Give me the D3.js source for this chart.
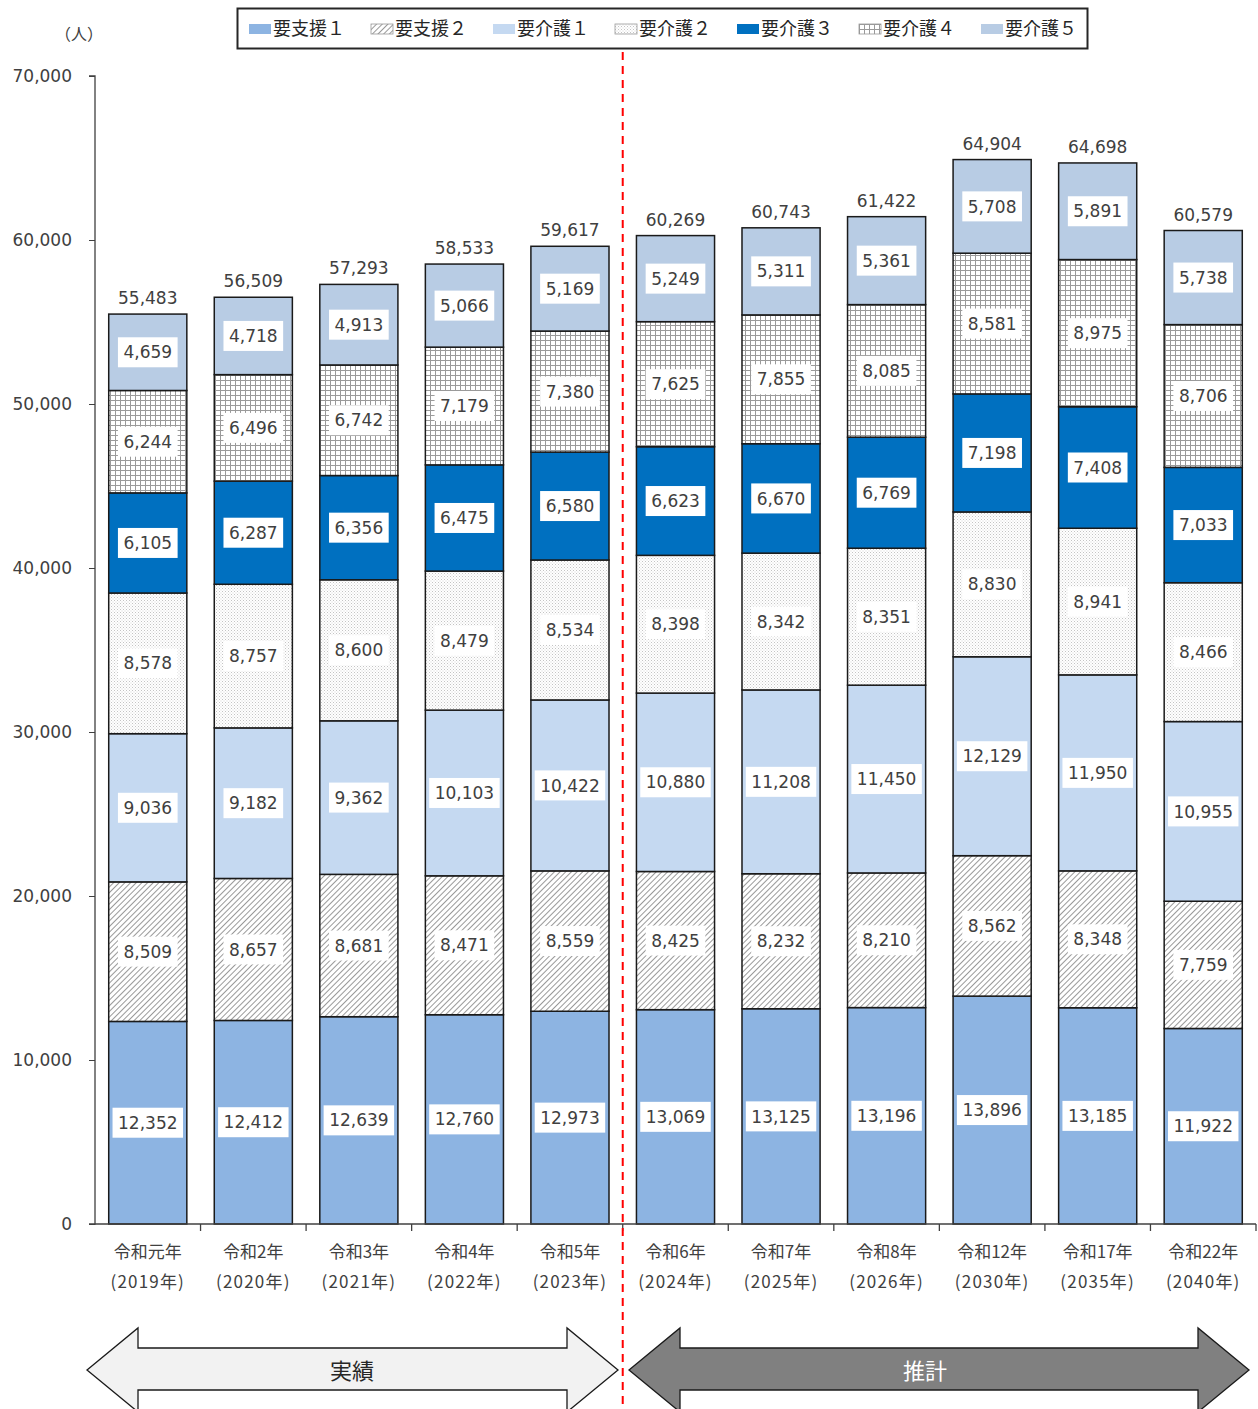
<!DOCTYPE html>
<meta charset="utf-8">
<style>
body { margin: 0; background: #fff; }
text { font-family: "DejaVu Sans", "Noto Sans CJK JP", sans-serif; }
</style>
<svg width="1258" height="1409"></svg>
<script src="https://d3js.org/d3.v7.min.js"></script>
<script>
// data
const years = ["令和元年", "令和2年", "令和3年", "令和4年", "令和5年", "令和6年", "令和7年", "令和8年", "令和12年", "令和17年", "令和22年"];
const yearsAD = ["(2019年)", "(2020年)", "(2021年)", "(2022年)", "(2023年)", "(2024年)", "(2025年)", "(2026年)", "(2030年)", "(2035年)", "(2040年)"];
const levels = ["要支援１", "要支援２", "要介護１", "要介護２", "要介護３", "要介護４", "要介護５"];
const shien1 = [12352, 12412, 12639, 12760, 12973, 13069, 13125, 13196, 13896, 13185, 11922];
const shien2 = [8509, 8657, 8681, 8471, 8559, 8425, 8232, 8210, 8562, 8348, 7759];
const kaigo1 = [9036, 9182, 9362, 10103, 10422, 10880, 11208, 11450, 12129, 11950, 10955];
const kaigo2 = [8578, 8757, 8600, 8479, 8534, 8398, 8342, 8351, 8830, 8941, 8466];
const kaigo3 = [6105, 6287, 6356, 6475, 6580, 6623, 6670, 6769, 7198, 7408, 7033];
const kaigo4 = [6244, 6496, 6742, 7179, 7380, 7625, 7855, 8085, 8581, 8975, 8706];
const kaigo5 = [4659, 4718, 4913, 5066, 5169, 5249, 5311, 5361, 5708, 5891, 5738];
const yTicks = [0, 10000, 20000, 30000, 40000, 50000, 60000, 70000];

const series = [shien1, shien2, kaigo1, kaigo2, kaigo3, kaigo4, kaigo5];
const fills = ["#8db4e2", "url(#hatch)", "#c5d9f1", "url(#dots)", "#0070c0", "url(#grid)", "#b8cce4"];

const svg = d3.select("svg");
const defs = svg.append("defs");

// diagonal hatch
const hatch = defs.append("pattern").attr("id", "hatch")
  .attr("patternUnits", "userSpaceOnUse").attr("width", 4).attr("height", 4)
  .attr("patternTransform", "rotate(45)");
hatch.append("rect").attr("width", 4).attr("height", 4).attr("fill", "#fff");
hatch.append("line").attr("x1", 0).attr("y1", 0).attr("x2", 0).attr("y2", 4)
  .attr("stroke", "#7f7f7f").attr("stroke-width", 1.6);

// fine dots
const dots = defs.append("pattern").attr("id", "dots")
  .attr("patternUnits", "userSpaceOnUse").attr("width", 3).attr("height", 3);
dots.append("rect").attr("width", 3).attr("height", 3).attr("fill", "#fff");
dots.append("rect").attr("x", 0).attr("y", 0).attr("width", 1).attr("height", 1).attr("fill", "#c4c4c4");
dots.append("rect").attr("x", 1.5).attr("y", 1.5).attr("width", 1).attr("height", 1).attr("fill", "#d4d4d4");

// grid
const grid = defs.append("pattern").attr("id", "grid")
  .attr("patternUnits", "userSpaceOnUse").attr("width", 5).attr("height", 5);
grid.append("rect").attr("width", 5).attr("height", 5).attr("fill", "#fff");
grid.append("path").attr("d", "M0,0.5H5M0.5,0V5")
  .attr("stroke", "#9a9a9a").attr("stroke-width", 1).attr("fill", "none");

const x = d3.scaleBand().domain(years).range([95, 1256]).paddingInner(0.26).paddingOuter(0.13);
const y = d3.scaleLinear().domain([0, 70000]).range([1224, 76]);

// stack
const rows = years.map((yr, i) => {
  const r = { year: yr };
  levels.forEach((l, j) => r[l] = series[j][i]);
  return r;
});
const stacked = d3.stack().keys(levels)(rows);

// bars
const layer = svg.append("g").selectAll("g").data(stacked).join("g")
  .attr("fill", (d, i) => fills[i]);
layer.selectAll("rect").data(d => d).join("rect")
  .attr("x", d => x(d.data.year))
  .attr("y", d => y(d[1]))
  .attr("width", x.bandwidth())
  .attr("height", d => y(d[0]) - y(d[1]))
  .attr("stroke", "#1a1a1a").attr("stroke-width", 1.5);

// value labels
const fmt = d3.format(",");
const lab = svg.append("g").selectAll("g").data(stacked.flatMap(s => s.map(d => ({ d, key: s.key }))))
  .join("g")
  .attr("transform", o => `translate(${x(o.d.data.year) + x.bandwidth() / 2},${(y(o.d[0]) + y(o.d[1])) / 2})`);
const box = lab.append("rect").attr("y", -15).attr("height", 30).attr("fill", "#fff");
const lt = lab.append("text")
  .attr("text-anchor", "middle").attr("dy", "0.36em")
  .attr("font-size", 17).attr("fill", "#404040")
  .text(o => fmt(o.d[1] - o.d[0]));
lt.each(function () {
  const w = this.getComputedTextLength() + 11;
  d3.select(this.parentNode).select("rect").attr("x", -w / 2).attr("width", w);
});

// totals
svg.append("g").selectAll("text").data(rows).join("text")
  .attr("x", d => x(d.year) + x.bandwidth() / 2)
  .attr("y", d => y(d3.sum(levels, l => d[l])) - 10)
  .attr("text-anchor", "middle").attr("font-size", 17).attr("fill", "#404040")
  .text(d => fmt(d3.sum(levels, l => d[l])));

// y axis
const yAxis = svg.append("g").attr("transform", "translate(95,0)")
  .call(d3.axisLeft(y).tickValues(yTicks).tickFormat(fmt).tickSize(6).tickPadding(17));
yAxis.select(".domain").attr("stroke", "#404040").attr("stroke-width", 1.3).attr("d", "M-6,76H0V1224H-6");
yAxis.selectAll(".tick line").attr("stroke", "#404040");
yAxis.selectAll("text").attr("font-size", 17).attr("fill", "#404040")
  .style("font-family", "'DejaVu Sans', sans-serif");

svg.append("text").attr("x", 79).attr("y", 40).attr("text-anchor", "middle")
  .attr("font-size", 16).attr("fill", "#404040").style("font-family", "'Noto Sans CJK JP'").text("（人）");

// x axis
const xg = svg.append("g");
xg.append("line").attr("x1", 95).attr("x2", 1256).attr("y1", 1224).attr("y2", 1224)
  .attr("stroke", "#404040").attr("stroke-width", 1.3);
xg.selectAll(".tk").data(years).join("line").attr("class", "tk")
  .attr("x1", d => x(d) - x.step() * x.paddingInner() / 2 + x.step())
  .attr("x2", d => x(d) - x.step() * x.paddingInner() / 2 + x.step())
  .attr("y1", 1224).attr("y2", 1231).attr("stroke", "#404040").attr("stroke-width", 1.3);
xg.selectAll(".l1").data(years).join("text").attr("class", "l1")
  .attr("x", d => x(d) + x.bandwidth() / 2).attr("y", 1258)
  .attr("text-anchor", "middle").attr("font-size", 17).attr("fill", "#404040")
  .style("font-family", "'Noto Sans CJK JP'").text(d => d);
xg.selectAll(".l2").data(yearsAD).join("text").attr("class", "l2")
  .attr("x", (d, i) => x(years[i]) + x.bandwidth() / 2).attr("y", 1288)
  .attr("text-anchor", "middle").attr("font-size", 17).attr("fill", "#404040")
  .style("font-family", "'Noto Sans CJK JP'").attr("letter-spacing", 1.2).text(d => d);

// legend
svg.append("rect").attr("x", 237.5).attr("y", 8.5).attr("width", 850).attr("height", 40)
  .attr("fill", "#fff").attr("stroke", "#262626").attr("stroke-width", 2);
const lg = svg.append("g").selectAll("g").data(levels).join("g")
  .attr("transform", (d, i) => `translate(${249 + i * 122},29)`);
lg.append("rect").attr("x", 0).attr("y", -5).attr("width", 22).attr("height", 10)
  .attr("fill", (d, i) => fills[i]).attr("stroke", (d, i) => i % 2 ? "#999" : "none").attr("stroke-width", 0.8);
lg.append("text").attr("x", 24).attr("dy", "0.36em").attr("font-size", 18).attr("fill", "#262626")
  .style("font-family", "'Noto Sans CJK JP'").text(d => d);

// divider
const divX = x(years[5]) - x.step() * x.paddingInner() / 2;
svg.append("line").attr("x1", divX).attr("x2", divX).attr("y1", 52).attr("y2", 1409)
  .attr("stroke", "#ff0000").attr("stroke-width", 2).attr("stroke-dasharray", "8,6");

// arrows
function arrow(x0, x1, fill, label, color, tx) {
  const h = 51, top = 1328, bot = 1412, mid = 1370;
  const pts = [[x0, mid], [x0 + h, top], [x0 + h, 1348], [x1 - h, 1348], [x1 - h, top], [x1, mid],
    [x1 - h, bot], [x1 - h, 1390], [x0 + h, 1390], [x0 + h, bot]];
  svg.append("path").attr("d", d3.line()(pts) + "Z")
    .attr("fill", fill).attr("stroke", "#1a1a1a").attr("stroke-width", 1.3);
  svg.append("text").attr("x", tx).attr("y", 1371).attr("dy", "0.36em")
    .attr("text-anchor", "middle").attr("font-size", 22).attr("fill", color)
    .style("font-family", "'Noto Sans CJK JP'").text(label);
}
arrow(87, 618, "#f2f2f2", "実績", "#262626", 352);
arrow(629, 1249, "#808080", "推計", "#ffffff", 925);
</script>
